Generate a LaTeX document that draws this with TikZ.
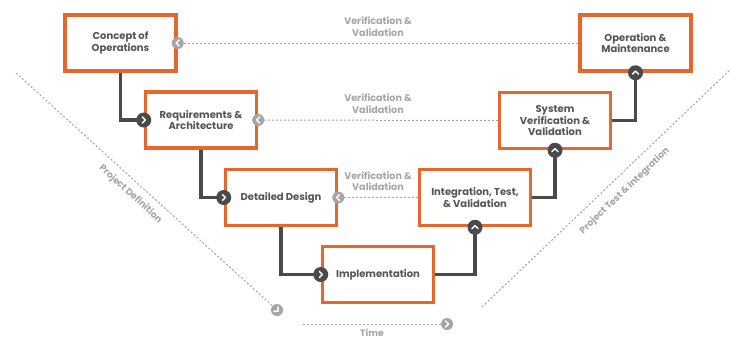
\documentclass[tikz,border=0pt]{standalone}
\usepackage{fontspec}
\setmainfont{Poppins}
\definecolor{vorange}{HTML}{E8662C}
\definecolor{vdark}{HTML}{4A4A4C}
\definecolor{vgray}{HTML}{A5A5A7}
\definecolor{vtext}{HTML}{555557}

\begin{document}
\begin{tikzpicture}[x=1pt,y=-1pt,
    phase/.style={draw=vorange, line width=3.5pt, fill=white, minimum width=111pt, minimum height=56pt,
      align=center, text=vtext, inner sep=1pt, font=\bfseries\fontsize{10}{11.8}\selectfont},
    link/.style={draw=vdark, line width=3.2pt},
    check/.style={draw=vgray, line width=1pt, dash pattern=on 2pt off 2pt},
    dot/.style={circle, fill=vdark, minimum size=15pt, inner sep=0pt},
    vdot/.style={circle, fill=vgray, minimum size=12pt, inner sep=0pt},
    vlabel/.style={text=vgray, align=center, font=\bfseries\fontsize{9.6}{11.5}\selectfont},
    axis/.style={text=vgray, font=\bfseries\fontsize{9.2}{10}\selectfont},
    chev/.pic={\draw[white, line width=1.5pt, line cap=round, line join=round]
      (-1.4pt,-3pt) -- (1.6pt,0pt) -- (-1.4pt,3pt);}]
  \useasboundingbox (0,0) rectangle (731,338);

  % phases of the V
  \node[phase] (concept) at (120.5,43) {Concept of\\Operations};
  \node[phase] (reqs) at (201,120) {Requirements \&\\Architecture};
  \node[phase] (design) at (281,197.5) {Detailed Design};
  \node[phase] (impl) at (378,274.5) {Implementation};
  \node[phase] (integ) at (475,197.5) {Integration, Test,\\\& Validation};
  \node[phase] (sysver) at (555,120.5) {System\\Verification \&\\Validation};
  \node[phase] (opmaint) at (635.5,43) {Operation \&\\Maintenance};

  % verification and validation
  \draw[check] (opmaint.west) -- (concept.east)
    node[midway, above=3pt, vlabel] {Verification \&\\Validation};
  \draw[check] (sysver.west) -- (reqs.east)
    node[midway, above=3pt, vlabel] {Verification \&\\Validation};
  \draw[check] (integ.west) -- (design.east)
    node[midway, above=3pt, vlabel] {Verification \&\\Validation};
  \foreach \b in {concept,reqs,design}{
    \node[vdot] (v\b) at (\b.east) {};
    \pic[rotate=180] at (v\b) {chev};
  }

  % flow down and up
  \draw[link] (concept.south) |- (reqs.west);
  \draw[link] (reqs.south) |- (design.west);
  \draw[link] (design.south) |- (impl.west);
  \draw[link] (impl.east) -| (integ.south);
  \draw[link] (integ.east) -| (sysver.south);
  \draw[link] (sysver.east) -| (opmaint.south);
  \foreach \b in {reqs,design,impl}{
    \node[dot] (d\b) at (\b.west) {};
    \pic at (d\b) {chev};
  }
  \foreach \b in {integ,sysver,opmaint}{
    \node[dot] (d\b) at (\b.south) {};
    \pic[rotate=90] at (d\b) {chev};
  }

  % project axes
  \coordinate (pdtop) at (16,73);
  \node[vdot] (pdend) at (277,310) {};
  \draw[check] (pdtop) -- (pdend)
    node[pos=0.48, sloped, below=4pt, axis] {Project Definition};
  \pic[rotate=-42] at (pdend) {chev};

  \coordinate (ptlow) at (482,307);
  \coordinate (pttop) at (732,68);
  \draw[check] (ptlow) -- (pttop)
    node[pos=0.53, sloped, below=6pt, axis] {Project Test \& Integration};

  \coordinate (tstart) at (303,324);
  \node[vdot] (tend) at (447,324) {};
  \draw[check] (tstart) -- (tend)
    node[midway, below=1pt, axis] {Time};
  \pic at (tend) {chev};
\end{tikzpicture}
\end{document}
